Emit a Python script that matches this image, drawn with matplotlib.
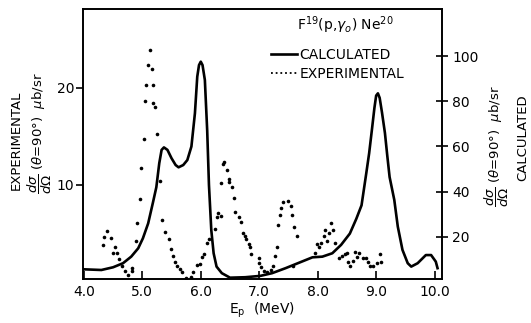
''' F19(p,gamma0)Ne20 cross section: calculated vs experimental '''

import matplotlib
matplotlib.use('Agg')
import matplotlib.pyplot as plt
from matplotlib.lines import Line2D

plt.rcParams['font.family'] = ['DejaVu Sans']
plt.rcParams['mathtext.fontset'] = 'dejavusans'

# calculated curve, right axis (ub/sr)
calc_e = [4.0, 4.30, 4.50, 4.67, 4.81, 4.93, 5.01, 5.10, 5.18, 5.24, 5.29, 5.33,
          5.37, 5.43, 5.50, 5.57, 5.62, 5.70, 5.77, 5.84, 5.90, 5.94, 5.97, 6.00,
          6.03, 6.07, 6.11, 6.14, 6.18, 6.22, 6.27, 6.36, 6.50, 6.76, 7.02, 7.22,
          7.45, 7.68, 7.91, 8.08, 8.25, 8.40, 8.55, 8.66, 8.75, 8.83, 8.88, 8.93,
          8.97, 9.00, 9.03, 9.06, 9.10, 9.15, 9.19, 9.23, 9.31, 9.37, 9.45, 9.54,
          9.60, 9.71, 9.85, 9.94, 10.02, 10.05]
calc_v = [5.7, 5.4, 6.6, 8.4, 11.3, 15, 19.4, 26, 35, 42, 52.6, 58.5,
          59.6, 58.5, 54.8, 51.8, 50.8, 51.8, 54, 60, 74.7, 90.9, 96, 97.5,
          96, 89.4, 67, 43, 23, 12.8, 6.9, 4, 2, 2.2, 2.8, 4,
          6.2, 8.6, 11, 11.3, 12.8, 16.5, 21.5, 28, 34, 48, 57, 68,
          77, 82.5, 83.5, 81.5, 75, 66, 56, 46.5, 36.4, 24.6, 14.3, 8.4,
          6.9, 8.4, 12, 12, 9.1, 6.2]

# experimental points, left axis (ub/sr)
exp_e = [4.32, 4.35, 4.40, 4.46, 4.50, 4.54, 4.57, 4.60, 4.65, 4.70, 4.76, 4.82,
         4.83, 4.89, 4.91, 4.96, 4.97, 5.03, 5.04, 5.06, 5.09, 5.13, 5.16, 5.19,
         5.19, 5.22, 5.25, 5.31, 5.34, 5.38, 5.45, 5.49, 5.52, 5.56, 5.60, 5.65,
         5.68, 5.74, 5.84, 5.87, 5.93, 5.98, 6.02, 6.05, 6.10, 6.14,
         6.25, 6.27, 6.30, 6.34, 6.35, 6.38, 6.40, 6.45, 6.49, 6.49, 6.54, 6.56,
         6.59, 6.66, 6.69, 6.72, 6.75, 6.77, 6.83, 6.85, 6.86, 7.00, 7.00, 7.03,
         7.08, 7.14, 7.20, 7.24, 7.27, 7.31, 7.32, 7.35, 7.37, 7.40, 7.49, 7.54,
         7.56, 7.57, 7.59, 7.65, 7.95, 7.98, 8.03, 8.06, 8.10, 8.12, 8.16, 8.19,
         8.23, 8.27, 8.29, 8.37, 8.42, 8.46, 8.50, 8.51, 8.56, 8.60, 8.64, 8.67,
         8.71, 8.77, 8.82, 8.86, 8.90, 8.95, 9.02, 9.06, 9.09]
exp_v = [3.8, 4.6, 5.3, 4.5, 3.0, 3.6, 3.0, 2.4, 1.6, 1.1, 0.7, 1.1,
         1.4, 4.2, 6.1, 8.6, 11.8, 14.7, 18.7, 20.3, 22.4, 23.9, 22.0, 20.3,
         18.5, 18.0, 15.3, 10.4, 6.4, 5.2, 4.4, 3.4, 2.7, 2.1, 1.6, 1.3,
         1.0, 0.4, 0.5, 1.0, 1.75, 1.9, 2.6, 2.9, 4.0, 4.4,
         5.5, 6.7, 7.1, 6.8, 10.2, 12.2, 12.4, 11.5, 10.6, 10.3, 9.8, 8.7,
         7.2, 6.7, 6.2, 5.1, 4.7, 4.4, 3.9, 3.6, 2.9, 2.5, 2.0, 1.5,
         1.1, 1.0, 1.2, 1.65, 2.65, 3.6, 5.9, 6.9, 7.6, 8.2, 8.4, 7.8,
         6.9, 1.7, 5.7, 4.7, 3.0, 3.9, 3.6, 4.0, 4.7, 5.4, 4.2, 5.1,
         6.1, 5.4, 4.0, 2.5, 2.7, 2.85, 3.0, 2.06, 1.7, 2.2, 3.06, 2.6,
         2.95, 2.5, 2.5, 2.1, 1.6, 1.65, 2.0, 2.9, 2.1]

x_ticks = [4, 5, 6, 7, 8, 9, 10]
x_labels = ['4.0', '5.0', '6.0', '7.0', '8.0', '9.0', '10.0']
left_ticks = [10, 20]
right_ticks = [20, 40, 60, 80, 100]

fig = plt.figure(figsize=(5.31, 3.23), dpi=100)
ax = fig.add_axes([0.1557, 0.1347, 0.676, 0.8375])
ax2 = ax.twinx()

ax.plot(exp_e, exp_v, 'o', color='black', markersize=2.6, markeredgewidth=0)
ax2.plot(calc_e, calc_v, '-', color='black', linewidth=1.9,
         solid_joinstyle='round')

ax.set_xlim(3.98, 10.12)
ax.set_ylim(0.26, 28.14)
ax2.set_ylim(1.2, 120.8)

ax.set_xticks(x_ticks)
ax.set_xticklabels(x_labels)
ax.set_yticks(left_ticks)
ax2.set_yticks(right_ticks)

ax.tick_params(axis='x', direction='in', length=6, width=1.2, labelsize=10, pad=4)
ax.tick_params(axis='y', direction='out', length=5, width=1.2, labelsize=10, pad=1)
ax2.tick_params(axis='y', direction='inout', length=9, width=1.2, labelsize=10, pad=3)

for a in (ax, ax2):
    for s in a.spines.values():
        s.set_linewidth(1.2)

ax.set_xlabel(r'E$_\mathregular{p}$  (MeV)', fontsize=10, labelpad=1)

# axis titles
fig.text(16 / 531, 1 - 140 / 323, 'EXPERIMENTAL', rotation=90,
         ha='center', va='center', fontsize=9.5)
fig.text(40 / 531, 1 - 133 / 323,
         r'$\dfrac{d\sigma}{d\Omega}$ ($\theta$=90$\degree$)  $\mu$b/sr',
         rotation=90, ha='center', va='center', fontsize=9.5)
fig.text(497 / 531, 1 - 146 / 323,
         r'$\dfrac{d\sigma}{d\Omega}$ ($\theta$=90$\degree$)  $\mu$b/sr',
         rotation=90, ha='center', va='center', fontsize=9.5)
fig.text(523 / 531, 1 - 138 / 323, 'CALCULATED', rotation=90,
         ha='center', va='center', fontsize=9.5)

# reaction label and legend
fig.text(345 / 531, 1 - 25 / 323, r'F$^{19}$(p,$\gamma_o$) Ne$^{20}$',
         ha='center', va='center', fontsize=10)
handles = [Line2D([], [], color='black', linewidth=1.9),
           Line2D([], [], color='black', linewidth=1.3, linestyle=(0, (1, 1.6)))]
fig.legend(handles, ['CALCULATED', 'EXPERIMENTAL'], loc='upper left',
           bbox_to_anchor=(271 / 531, 1 - 48 / 323), frameon=False,
           fontsize=10, handlelength=1.9, handletextpad=0.15,
           labelspacing=0.35, borderpad=0, borderaxespad=0)

fig.savefig('out.png', dpi=100)
